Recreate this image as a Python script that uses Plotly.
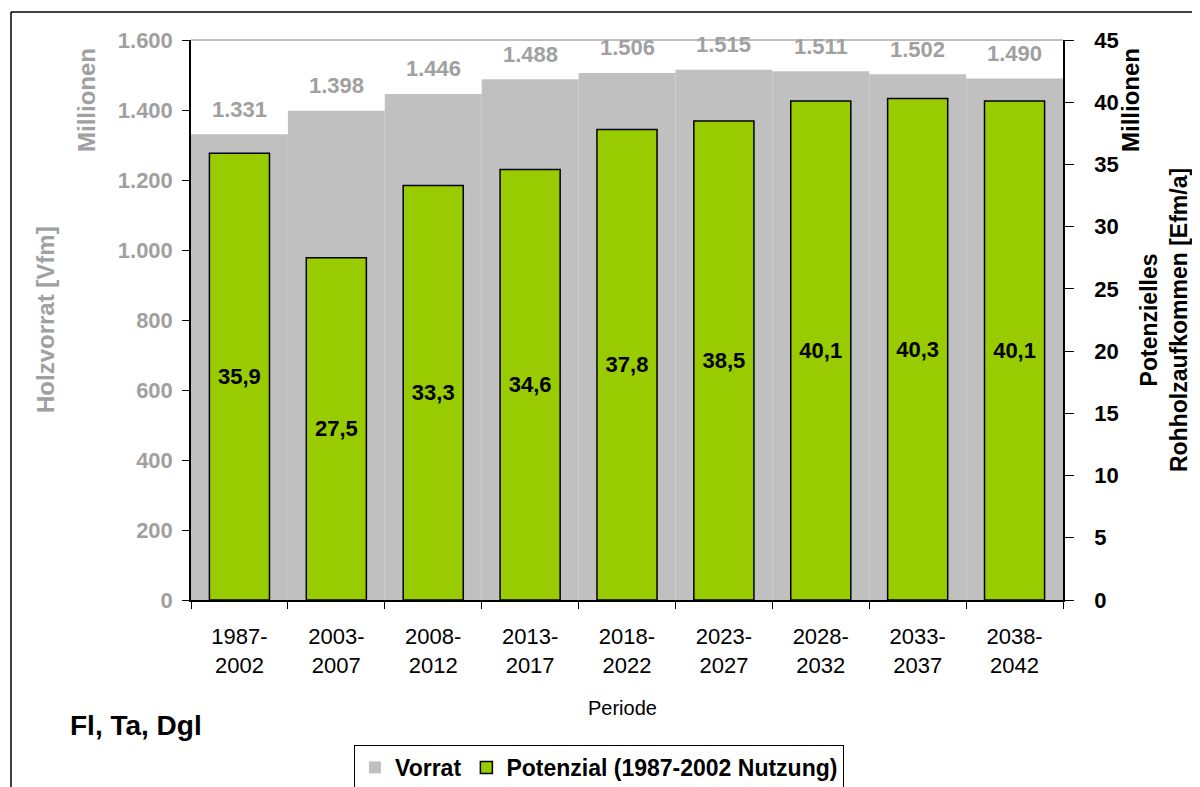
import plotly.graph_objects as go

# ---- data ----
perioden = ["1987-2002", "2003-2007", "2008-2012", "2013-2017", "2018-2022",
            "2023-2027", "2028-2032", "2033-2037", "2038-2042"]
vorrat = [1331, 1398, 1446, 1488, 1506, 1515, 1511, 1502, 1490]          # Mio. Vfm
potenzial = [35.9, 27.5, 33.3, 34.6, 37.8, 38.5, 40.1, 40.3, 40.1]        # Mio. Efm/a
left_ticks = [0, 200, 400, 600, 800, 1000, 1200, 1400, 1600]
right_ticks = [0, 5, 10, 15, 20, 25, 30, 35, 40, 45]

FONT = "Liberation Sans, Arial, sans-serif"
GREY_TXT = "#A0A0A0"
GREY_BAR = "#C0C0C0"
GREEN = "#99CC00"

# page offset (browser body margin) and geometry in screen pixels
OFF = 8
W, H = 1200 - OFF, 787 - OFF
L, R, T, B = 191, 1063, 40, 600
PW, PH = R - L, B - T


def px_x(x):
    return (x - L) / PW


def px_y(y):
    return (B - y) / PH


ticktext = [p.replace("-", "-<br>") for p in perioden]

fig = go.Figure()
fig.add_trace(go.Bar(
    x=perioden, y=vorrat, yaxis="y", name="Vorrat",
    marker=dict(color=GREY_BAR, line=dict(width=0)), width=1.0,
    hoverinfo="skip",
))
fig.add_trace(go.Bar(
    x=perioden, y=potenzial, yaxis="y2", name="Potenzial (1987-2002 Nutzung)",
    marker=dict(color=GREEN, line=dict(color="black", width=1.5)), width=0.62,
    texttemplate="%{y:.1f}", textposition="inside", insidetextanchor="middle",
    textangle=0, constraintext="none",
    textfont=dict(family=FONT, size=22, color="black", weight="bold"),
))

annotations = []
for p, v in zip(perioden, vorrat):
    annotations.append(dict(
        x=p, y=v, xref="x", yref="y", yshift=25, showarrow=False,
        text=f"{v:,}".replace(",", "."), xanchor="center", yanchor="middle",
        font=dict(family=FONT, size=22, color=GREY_TXT, weight="bold"),
    ))


def pann(x, y, text, size, color, angle=0, bold=True):
    return dict(x=px_x(x), y=px_y(y), xref="paper", yref="paper", showarrow=False,
                xanchor="center", yanchor="middle", text=text, textangle=angle,
                font=dict(family=FONT, size=size, color=color,
                          weight="bold" if bold else "normal"))


annotations += [
    pann(87, 100, "Millionen", 24, GREY_TXT, -90),
    pann(45, 320, "Holzvorrat [Vfm]", 24, GREY_TXT, -90),
    pann(1131, 100, "Millionen", 24, "black", -90),
    pann(1164, 320, "Potenzielles<br>Rohholzaufkommen [Efm/a]", 23, "black", -90),
    pann(622, 708, "Periode", 20, "black", 0, bold=False),
    pann(136, 725, "Fl, Ta, Dgl", 28, "black"),
]

shapes = [
    # grey top border of plot area
    dict(type="line", xref="paper", yref="paper", x0=0, x1=1, y0=1, y1=1,
         line=dict(color="#808080", width=1)),
    # outer chart frame (top and left)
    dict(type="line", xref="paper", yref="paper", x0=px_x(11), x1=px_x(1210),
         y0=px_y(12), y1=px_y(12), line=dict(color="black", width=1.5)),
    dict(type="line", xref="paper", yref="paper", x0=px_x(11), x1=px_x(11),
         y0=px_y(12), y1=px_y(800), line=dict(color="black", width=1.5)),
]

fig.update_layout(
    width=W, height=H,
    margin=dict(l=L - OFF, r=1200 - R, t=T - OFF, b=787 - B, autoexpand=False),
    paper_bgcolor="white", plot_bgcolor="white",
    separators=",.",
    barmode="overlay",
    showlegend=True,
    legend=dict(orientation="h", x=px_x(354), y=px_y(745), xanchor="left", yanchor="top",
                bordercolor="black", borderwidth=1, bgcolor="white",
                font=dict(family=FONT, size=23, color="black", weight="bold"),
                traceorder="normal"),
    xaxis=dict(type="category", range=[-0.5, 8.5], tickmode="array",
               tickvals=perioden, ticktext=ticktext, tickson="boundaries",
               ticks="outside", ticklen=7, tickcolor="black", tickwidth=1,
               showline=True, linecolor="black", linewidth=1.5, showgrid=False,
               ticklabelstandoff=16,
               tickfont=dict(family=FONT, size=22, color="black")),
    yaxis=dict(range=[0, 1600], tickmode="array", tickvals=left_ticks, tickformat=",d",
               ticks="outside", ticklen=7, tickcolor="black", tickwidth=1,
               showline=True, linecolor="black", linewidth=1.5, showgrid=False,
               zeroline=False, ticklabelstandoff=5,
               tickfont=dict(family=FONT, size=22, color=GREY_TXT, weight="bold")),
    yaxis2=dict(range=[0, 45], overlaying="y", side="right", anchor="x",
                tickmode="array", tickvals=right_ticks,
                ticks="outside", ticklen=9, tickcolor="black", tickwidth=1,
                showline=True, linecolor="black", linewidth=1.5, showgrid=False,
                zeroline=False, ticklabelstandoff=16,
                tickfont=dict(family=FONT, size=22, color="black", weight="bold")),
    yaxis3=dict(range=[0, 45], overlaying="y", side="right", anchor="x",
                tickmode="array", tickvals=right_ticks,
                ticks="inside", ticklen=7, tickcolor="black", tickwidth=1,
                showline=False, showgrid=False, zeroline=False, showticklabels=False),
    annotations=annotations,
    shapes=shapes,
)

fig.write_html("out.html")
